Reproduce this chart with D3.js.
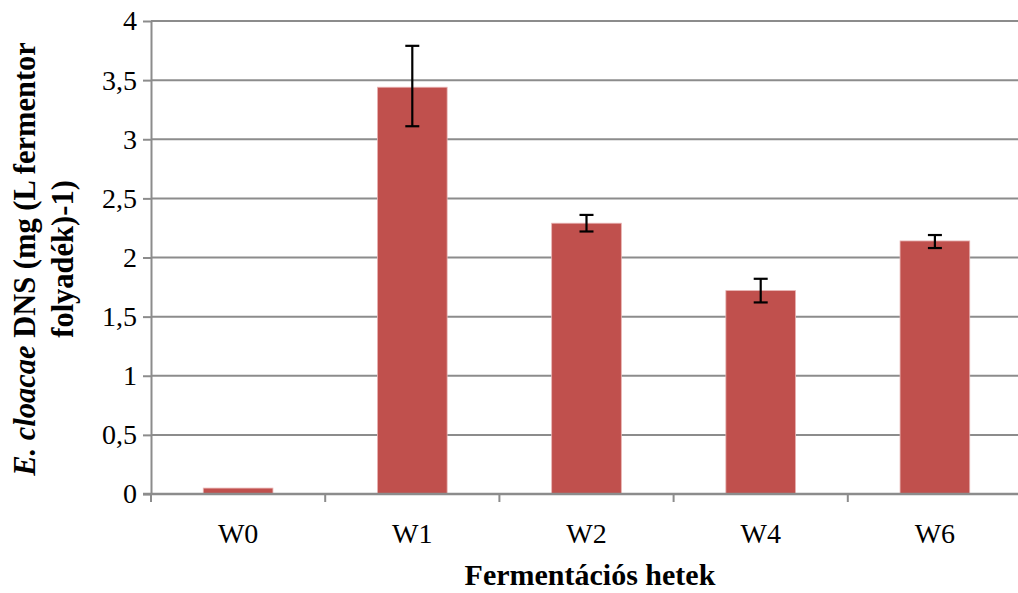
<!DOCTYPE html>
<html>
<head>
<meta charset="utf-8">
<script src="https://cdn.jsdelivr.net/npm/d3@7"></script>
</head>
<body style="margin:0; background:#fff">
<div id="wrapper"></div>
<script>
const categories = ['W0', 'W1', 'W2', 'W4', 'W6'];
const values = [0.05, 3.44, 2.29, 1.72, 2.14];
const errLow = [0.05, 3.11, 2.22, 1.62, 2.08];
const errHigh = [0.05, 3.79, 2.36, 1.82, 2.19];
const yTicks = [0, 0.5, 1, 1.5, 2, 2.5, 3, 3.5, 4];

const dataset = categories.map((c, i) => ({
  cat: c, value: values[i], lo: errLow[i], hi: errHigh[i]
}));

const serif = "'Liberation Serif'";

// dimensions
let dimensions = {
  width: 1018,
  height: 593,
  margin: { top: 21, right: -4, bottom: 99, left: 151 }
};
dimensions.boundedWidth = dimensions.width - dimensions.margin.left - dimensions.margin.right;
dimensions.boundedHeight = dimensions.height - dimensions.margin.top - dimensions.margin.bottom;

const wrapper = d3.select('#wrapper')
  .append('svg')
  .attr('width', dimensions.width)
  .attr('height', dimensions.height);

const bounds = wrapper.append('g')
  .attr('transform', `translate(${dimensions.margin.left},${dimensions.margin.top})`);

// scales
const xScale = d3.scaleBand()
  .domain(categories)
  .range([0, dimensions.boundedWidth])
  .paddingInner(0.6)
  .paddingOuter(0.3);

const yScale = d3.scaleLinear()
  .domain([0, 4])
  .range([dimensions.boundedHeight, 0]);

// gridlines
bounds.append('g')
  .selectAll('line')
  .data(yTicks.filter(d => d > 0))
  .join('line')
  .attr('x1', 0)
  .attr('x2', dimensions.boundedWidth)
  .attr('y1', d => yScale(d))
  .attr('y2', d => yScale(d))
  .attr('stroke', '#8c8c8c')
  .attr('stroke-width', 2);

// bars
bounds.append('g')
  .selectAll('rect')
  .data(dataset)
  .join('rect')
  .attr('x', d => xScale(d.cat))
  .attr('y', d => yScale(d.value))
  .attr('width', xScale.bandwidth())
  .attr('height', d => yScale(0) - yScale(d.value))
  .attr('fill', '#C0504D')
  .attr('stroke', '#e8b4b3')
  .attr('stroke-width', 0.8);

// error bars
const errData = dataset.filter(d => d.hi > d.lo);
const errG = bounds.append('g')
  .attr('stroke', '#000')
  .attr('stroke-width', 2.2);
const cx = d => xScale(d.cat) + xScale.bandwidth() / 2;
errG.selectAll('.stem')
  .data(errData)
  .join('line')
  .attr('x1', cx).attr('x2', cx)
  .attr('y1', d => yScale(d.hi))
  .attr('y2', d => yScale(d.lo));
errG.selectAll('.capHi')
  .data(errData)
  .join('line')
  .attr('x1', d => cx(d) - 7).attr('x2', d => cx(d) + 7)
  .attr('y1', d => yScale(d.hi)).attr('y2', d => yScale(d.hi));
errG.selectAll('.capLo')
  .data(errData)
  .join('line')
  .attr('x1', d => cx(d) - 7).attr('x2', d => cx(d) + 7)
  .attr('y1', d => yScale(d.lo)).attr('y2', d => yScale(d.lo));

// y axis
const yAxisGenerator = d3.axisLeft(yScale)
  .tickValues(yTicks)
  .tickFormat(d => String(d).replace('.', ','))
  .tickSize(8)
  .tickPadding(6)
  .tickSizeOuter(0);
const yAxis = bounds.append('g').call(yAxisGenerator);
yAxis.attr('font-family', null);
yAxis.select('.domain').attr('stroke', '#8c8c8c').attr('stroke-width', 2);
yAxis.selectAll('.tick line').attr('stroke', '#8c8c8c').attr('stroke-width', 2);
yAxis.selectAll('.tick text')
  .attr('fill', '#000')
  .attr('font-family', serif)
  .attr('font-size', 28);

// x axis
const xAxis = bounds.append('g')
  .attr('transform', `translate(0,${dimensions.boundedHeight})`);
xAxis.append('line')
  .attr('x1', -8).attr('x2', dimensions.boundedWidth)
  .attr('stroke', '#8c8c8c').attr('stroke-width', 2.5);
const step = xScale.step();
const boundaries = d3.range(categories.length + 1).map(i => i * step);
xAxis.selectAll('.xt')
  .data(boundaries)
  .join('line')
  .attr('x1', d => d).attr('x2', d => d)
  .attr('y1', 0).attr('y2', 8)
  .attr('stroke', '#8c8c8c').attr('stroke-width', 2);
xAxis.selectAll('.xl')
  .data(categories)
  .join('text')
  .attr('x', d => xScale(d) + xScale.bandwidth() / 2)
  .attr('y', 49)
  .attr('text-anchor', 'middle')
  .attr('font-family', serif)
  .attr('font-size', 28)
  .text(d => d);

// axis titles
wrapper.append('text')
  .attr('x', 590)
  .attr('y', 585)
  .attr('text-anchor', 'middle')
  .attr('font-family', serif)
  .attr('font-size', 30)
  .attr('font-weight', 'bold')
  .text('Fermentációs hetek');

const yTitle = wrapper.append('text')
  .attr('transform', 'translate(0,259) rotate(-90)')
  .attr('text-anchor', 'middle')
  .attr('font-family', serif)
  .attr('font-size', 30.5)
  .attr('font-weight', 'bold');
const line1 = yTitle.append('tspan').attr('x', 0).attr('y', 35);
line1.append('tspan').attr('font-style', 'italic').text('E. cloacae');
line1.append('tspan').text(' DNS (mg (L fermentor');
yTitle.append('tspan').attr('x', 0).attr('y', 73).text('folyadék)-1)');
</script>
</body>
</html>
